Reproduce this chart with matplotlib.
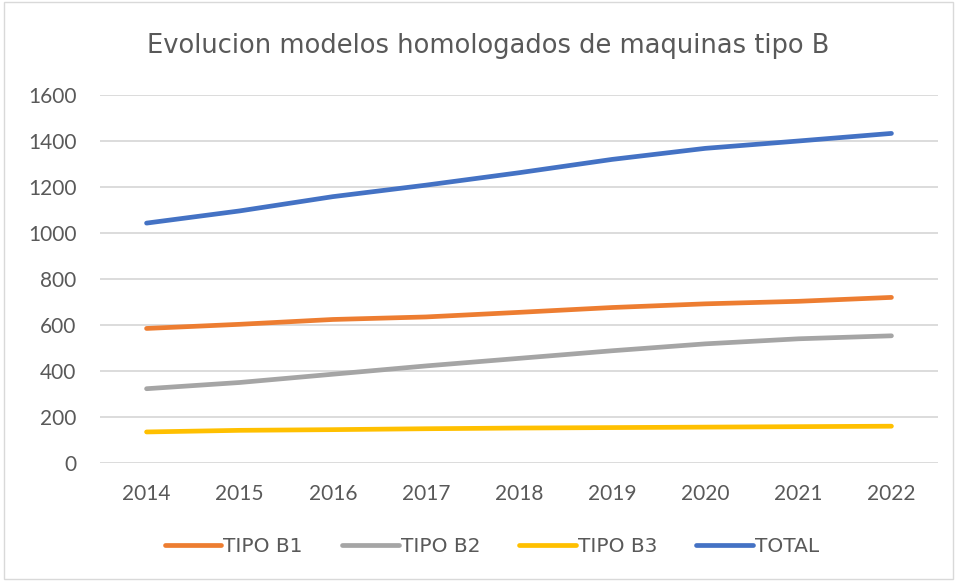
import matplotlib.pyplot as plt

anios = ["2014", "2015", "2016", "2017", "2018", "2019", "2020", "2021", "2022"]
tipo_b1 = [585, 603, 624, 635, 655, 676, 692, 703, 720]
tipo_b2 = [323, 350, 386, 422, 455, 488, 518, 540, 553]
tipo_b3 = [135, 142, 145, 149, 152, 154, 156, 158, 160]
total = [1043, 1096, 1158, 1208, 1262, 1320, 1368, 1400, 1433]

plt.rcParams["font.family"] = ["Lato", "DejaVu Sans"]
gris = "#595959"

fig = plt.figure(figsize=(9.57, 5.81), dpi=100)
ax = fig.add_axes([100 / 957, 1 - 463 / 581, 838 / 957, 368 / 581])

x = range(len(anios))
ax.plot(x, tipo_b1, color="#ED7D31", lw=3.4, solid_capstyle="round", label="TIPO B1")
ax.plot(x, tipo_b2, color="#A5A5A5", lw=3.4, solid_capstyle="round", label="TIPO B2")
ax.plot(x, tipo_b3, color="#FFC000", lw=3.4, solid_capstyle="round", label="TIPO B3")
ax.plot(x, total, color="#4472C4", lw=3.4, solid_capstyle="round", label="TOTAL")

ax.set_xlim(-0.5, len(anios) - 0.5)
ax.set_ylim(0, 1600)
ax.set_yticks(range(0, 1601, 200))
ax.set_xticks(list(x))
ax.set_xticklabels(anios)
ax.grid(axis="y", color="#D9D9D9", lw=1.3)
ax.set_axisbelow(True)
for s in ax.spines.values():
    s.set_visible(False)
ax.tick_params(length=0, labelsize=15, labelcolor=gris)
ax.tick_params(axis="y", pad=17)
ax.tick_params(axis="x", pad=15)

fig.text(488 / 957, 1 - 46 / 581, "Evolucion modelos homologados de maquinas tipo B",
         ha="center", va="center", fontsize=18.5, color=gris, family="DejaVu Sans")

fig.legend(loc="center", bbox_to_anchor=(492 / 957, 1 - 547 / 581), ncol=4, frameon=False,
           prop={"family": "DejaVu Sans", "size": 14.5}, labelcolor=gris,
           handlelength=2.8, handletextpad=0.1, columnspacing=1.95)

fig.patches.append(plt.Rectangle((0.004, 0.004), 0.992, 0.992, transform=fig.transFigure,
                                 fill=False, edgecolor="#D9D9D9", lw=1))

fig.savefig("out.png", dpi=100)
